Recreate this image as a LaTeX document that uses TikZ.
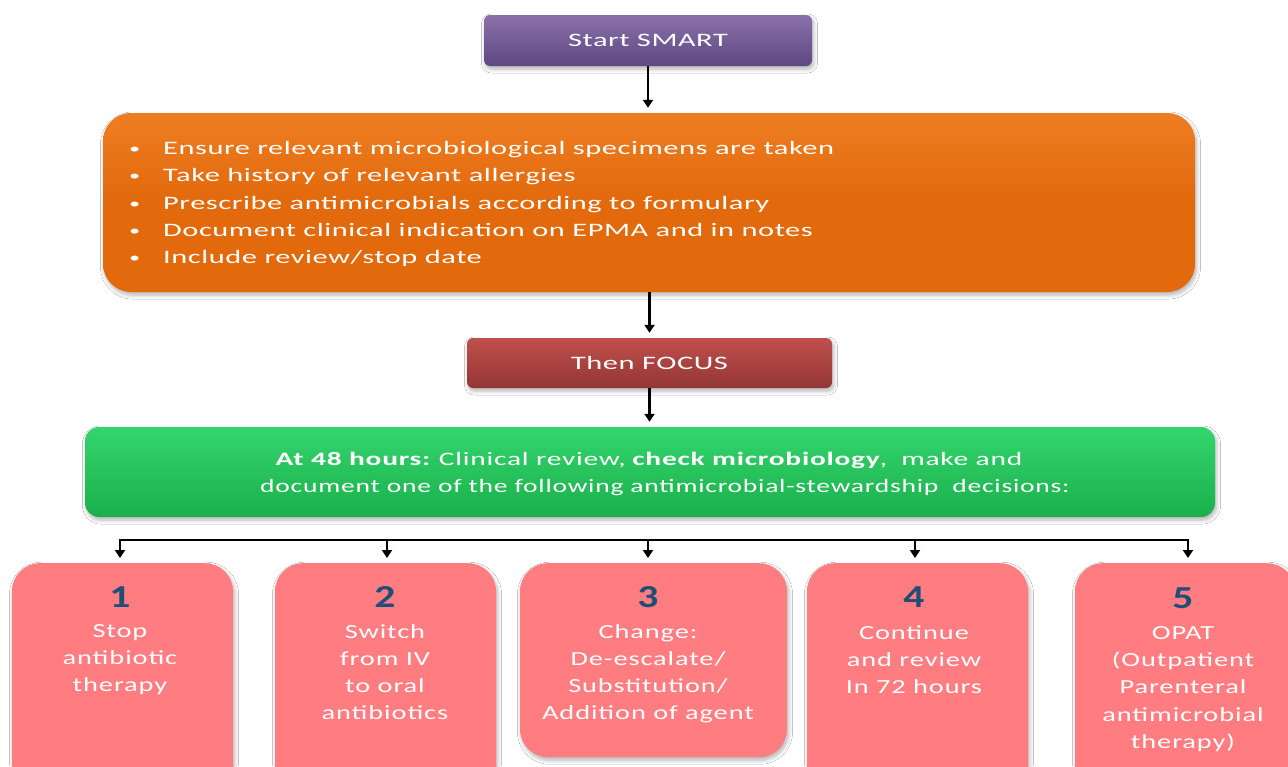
\documentclass[tikz,border=0pt]{standalone}
\usepackage{fontspec}
\setmainfont{Carlito}[FakeStretch=1.6, LetterSpace=3]
\newfontfamily\reviewfont{Carlito}[FakeStretch=1.45, LetterSpace=4]
\newfontfamily\reviewwide{Carlito}[FakeStretch=1.55, LetterSpace=4]
\newfontfamily\choicefont{Carlito}[FakeStretch=1.42, LetterSpace=4.5]
\newfontfamily\numfont{Carlito}[FakeStretch=1.3]
\usetikzlibrary{arrows.meta,shadows.blur}

\definecolor{smartTop}{HTML}{8A70AA}
\definecolor{smartBot}{HTML}{5E4880}
\definecolor{orTop}{HTML}{EE7E22}
\definecolor{orBot}{HTML}{E2690C}
\definecolor{focTop}{HTML}{C0504D}
\definecolor{focBot}{HTML}{923634}
\definecolor{grTop}{HTML}{34D56E}
\definecolor{grBot}{HTML}{1AB04B}
\definecolor{pinkbox}{HTML}{FF7C80}
\definecolor{numblue}{HTML}{1F4E79}

\tikzset{
  x=1pt, y=-1pt,
  softshadow/.style={blur shadow={shadow xshift=1.5pt, shadow yshift=-3pt,
      shadow blur steps=6, shadow blur radius=4pt, shadow opacity=30}},
  banner/.style={rectangle, rounded corners=6pt, softshadow, inner sep=0pt,
      text=white, font=\fontsize{19}{23}\selectfont},
  bigbox/.style={rectangle, rounded corners=28pt, softshadow, inner sep=0pt},
  choice/.style={rectangle, rounded corners=28pt, fill=pinkbox, softshadow,
      inner sep=0pt, anchor=north, minimum height=240pt},
  choicetext/.style={anchor=north, align=center, text=white, inner sep=0pt,
      font=\choicefont\fontsize{20}{27.3}\selectfont},
  reviewtext/.style={text=white, inner sep=0pt,
      font=\reviewfont\fontsize{19}{28}\selectfont},
  num/.style={text=numblue, font=\numfont\fontsize{32}{32}\bfseries\selectfont},
  arr/.style={line width=2.6pt, -{Triangle[width=10pt,length=8pt]}, shorten >=5pt},
  busline/.style={line width=2.6pt}
}
\newcommand{\smartitem}{\makebox[34pt][l]{\raisebox{1pt}{\fontsize{14}{14}\selectfont\textbullet}}}

\begin{document}
\begin{tikzpicture}
\fill[white] (0,0) rectangle (1288,766);
\useasboundingbox (0,0) rectangle (1288,766);
\clip (0,0) rectangle (1288,766);

% top banner
\node[banner, top color=smartTop, bottom color=smartBot,
      minimum width=328pt, minimum height=51pt] (start) at (648,40.5) {Start SMART};

% SMART checklist
\node[bigbox, top color=orTop, bottom color=orBot, middle color=orBot,
      minimum width=1092pt, minimum height=179pt] (smart) at (649,202.5) {};
\node[anchor=north west, align=left, text=white, inner sep=0pt,
      font=\fontsize{19}{27.4}\selectfont] (smarttxt) at (129,141) {%
  \smartitem Ensure relevant microbiological specimens are taken\\
  \smartitem Take history of relevant allergies\\
  \smartitem Prescribe antimicrobials according to formulary\\
  \smartitem Document clinical indication on EPMA and in notes\\
  \smartitem Include review/stop date};

% second banner
\node[banner, top color=focTop, bottom color=focBot,
      minimum width=365pt, minimum height=50pt] (focus) at (649.5,363) {Then FOCUS};

% 48 hour review
\node[bigbox, rounded corners=14pt, top color=grTop, bottom color=grBot,
      minimum width=1130pt, minimum height=90pt] (review) at (650,472) {};
\node[reviewtext, font=\reviewwide\fontsize{19}{28}\selectfont] (review1) at (649,460) {%
  \textbf{At 48 hours:}\hspace{-2pt} Clinical review,\hspace{6pt}\textbf{check microbiology},\hspace{14pt}make and};
\node[reviewtext] (review2) at (665,488) {%
  document one of the following antimicrobial-stewardship\ \ decisions:};

% decision boxes
\node[choice, minimum width=221pt] (b1) at (122.5,563) {};
\node[choice, minimum width=221pt] (b2) at (385.5,563) {};
\node[choice, minimum width=267pt, minimum height=194pt] (b3) at (653.5,563) {};
\node[choice, minimum width=221pt] (b4) at (917.5,563) {};
\node[choice, minimum width=220pt] (b5) at (1185,563) {};

\node[num] (n1) at (120,597) {1};
\node[num] (n2) at (385,597) {2};
\node[num] (n3) at (648,597) {3};
\node[num] (n4) at (914,597) {4};
\node[num] (n5) at (1183,598) {5};

\node[choicetext] (t1) at (120,624) {Stop\\antibiotic\\therapy};
\node[choicetext] (t2) at (385,624) {Switch\\from IV\\to oral\\antibiotics};
\node[choicetext] (t3) at (648,624) {Change:\\De-escalate/\\Substitution/\\Addition of agent};
\node[choicetext] (t4) at (914,625) {Continue\\and review\\In 72 hours};
\node[choicetext] (t5) at (1183,626) {OPAT\\(Outpatient\\Parenteral\\antimicrobial\\therapy)};

% connectors
\draw[arr] (start.south) -- (start.south |- smart.north);
\draw[arr] (smart.south -| focus.north) -- (focus.north);
\draw[arr] (focus.south) -- (focus.south |- review.north);

\coordinate (busL) at (120,540);
\coordinate (busR) at (1188,540);
\draw[busline] ([xshift=-1.3pt]busL) -- ([xshift=1.3pt]busR);
\draw[arr] (busL) -- (busL |- b1.north);
\draw[arr] (387,540) -- (387,563);
\draw[arr] (648,540) -- (648,563);
\draw[arr] (915,540) -- (915,563);
\draw[arr] (busR) -- (busR |- b5.north);
\end{tikzpicture}
\end{document}
